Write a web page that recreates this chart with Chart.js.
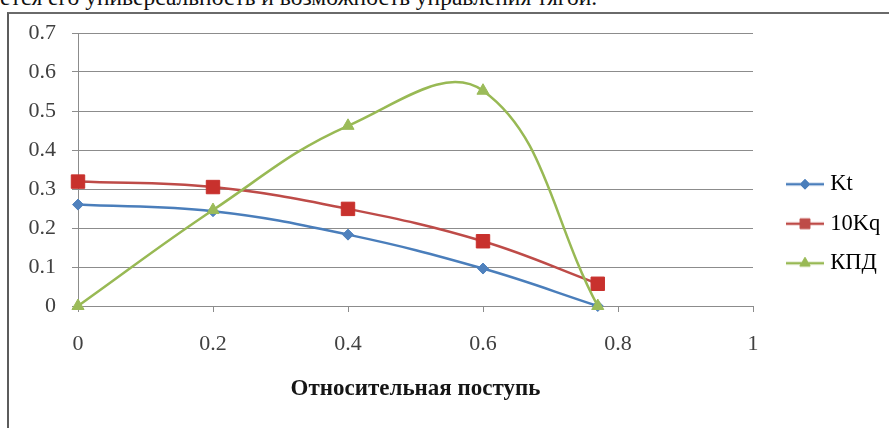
<!DOCTYPE html>
<html>
<head>
<meta charset="utf-8">
<script src="https://cdn.jsdelivr.net/npm/chart.js@4/dist/chart.umd.min.js"></script>
<style>
  html, body { margin: 0; padding: 0; background: #fff; }
  body { width: 889px; height: 428px; position: relative; overflow: hidden; }
  #topText {
    position: absolute; left: 0; top: -16px; line-height: 23px;
    font: 23.5px 'Liberation Serif', serif; color: #111; white-space: nowrap;
  }
  #frame {
    position: absolute; left: 7px; top: 12px; width: 900px; height: 430px;
    border-left: 2px solid #5c5c5c; border-top: 2px solid #6a6a6a;
  }
  #graph { position: absolute; left: 0; top: 0; }
</style>
</head>
<body>
<div id="topText">ется его универсальность и возможность управления тягой.</div>
<div id="frame"></div>
<canvas id="graph" width="889" height="428"></canvas>
<script>
// values
var relAdvance = [0, 0.2, 0.4, 0.6, 0.77];
var kt  = [0.26, 0.243, 0.183, 0.096, 0.0];
var kq10 = [0.319, 0.305, 0.249, 0.166, 0.057];
var kpd = [0, 0.246, 0.462, 0.552, 0.0];

var seriesNames = ['Kt', '10Kq', 'КПД'];
var xTitle = 'Относительная поступь';

var serifFont = "'Liberation Serif', 'Times New Roman', serif";

function points(ys){
  return ys.map(function(y, i){ return {x: relAdvance[i], y: y}; });
}

// excel style legend icon: short line with the marker in the middle
function legendIcon(color, style, radius){
  var c = document.createElement('canvas');
  c.width = 44; c.height = 20;
  var g = c.getContext('2d');
  g.strokeStyle = color;
  g.lineWidth = 2.5;
  g.beginPath();
  g.moveTo(6, 10);
  g.lineTo(44, 10);
  g.stroke();
  g.fillStyle = color;
  g.lineWidth = 1;
  Chart.helpers.drawPoint(g, {pointStyle: style, radius: radius, borderWidth: 1, rotation: 0}, 25, 10);
  return c;
}

var sets = [
  {label: seriesNames[0], data: points(kt), borderColor: '#4a7ebb', backgroundColor: '#4f81bd',
   pointStyle: 'rectRot', pointRadius: 5.5, order: 3, icon: legendIcon('#4a7ebb', 'rectRot', 5)},
  {label: seriesNames[1], data: points(kq10), borderColor: '#be4b48', backgroundColor: '#c8312d',
   pointStyle: 'rect', pointRadius: 9.5, order: 2, icon: legendIcon('#be4b48', 'rect', 7)},
  {label: seriesNames[2], data: points(kpd), borderColor: '#98b954', backgroundColor: '#9bbb59',
   pointStyle: 'triangle', pointRadius: 7, order: 1, icon: legendIcon('#98b954', 'triangle', 6)}
];

sets.forEach(function(s){
  s.borderWidth = 2.5;
  s.tension = 0.4;
  s.pointBorderColor = s.backgroundColor;
  s.pointBorderWidth = 1;
  s.fill = false;
  s.clip = false;
});

// pin the legend box where excel puts it
var legendPlacer = {
  id: 'legendPlacer',
  beforeUpdate: function(chart){
    var lg = chart.legend;
    if (lg && !lg._wrapped){
      var origFit = lg.fit;
      lg.fit = function(){
        origFit.call(this);
        this.width = 136;
      };
      lg._wrapped = true;
    }
  },
  afterLayout: function(chart){
    var lg = chart.legend;
    lg.left = 768;
    lg.right = 889;
    lg.top = 156;
    lg.bottom = 428;
  }
};

function plainTick(v){
  return String(Math.round(v * 10) / 10);
}

var chart = new Chart(document.getElementById('graph').getContext('2d'), {
  type: 'line',
  data: {datasets: sets},
  options: {
    responsive: false,
    animation: false,
    devicePixelRatio: 1,
    layout: {padding: {left: 0, right: 0, top: 33, bottom: 0}},
    plugins: {
      tooltip: {enabled: false},
      legend: {
        position: 'right',
        align: 'start',
        labels: {
          usePointStyle: true,
          pointStyleWidth: 34,
          padding: 17,
          color: '#222',
          font: {family: serifFont, size: 22.5},
          generateLabels: function(c){
            return c.data.datasets.map(function(ds, i){
              return {text: ds.label, pointStyle: ds.icon, fillStyle: ds.borderColor,
                      strokeStyle: ds.borderColor, lineWidth: 0, datasetIndex: i, hidden: false};
            });
          }
        }
      }
    },
    scales: {
      x: {
        type: 'linear',
        min: 0, max: 1,
        ticks: {stepSize: 0.2, padding: 19, color: '#404040', font: {family: serifFont, size: 22},
                callback: plainTick},
        grid: {drawOnChartArea: false, drawTicks: true, tickLength: 6, color: '#8c8c8c'},
        border: {display: true, color: '#8c8c8c'},
        title: {display: true, text: xTitle, color: '#151515',
                font: {family: serifFont, size: 23, weight: 'bold'}, padding: {top: 0, bottom: 25}},
        afterFit: function(scale){ scale.height = 122; }
      },
      y: {
        min: 0, max: 0.7,
        ticks: {stepSize: 0.1, padding: 16, color: '#404040', font: {family: serifFont, size: 22},
                callback: plainTick},
        grid: {color: '#8c8c8c', tickLength: 6},
        border: {display: true, color: '#8c8c8c'},
        afterFit: function(scale){ scale.width = 78; }
      }
    }
  },
  plugins: [legendPlacer]
});
</script>
</body>
</html>
